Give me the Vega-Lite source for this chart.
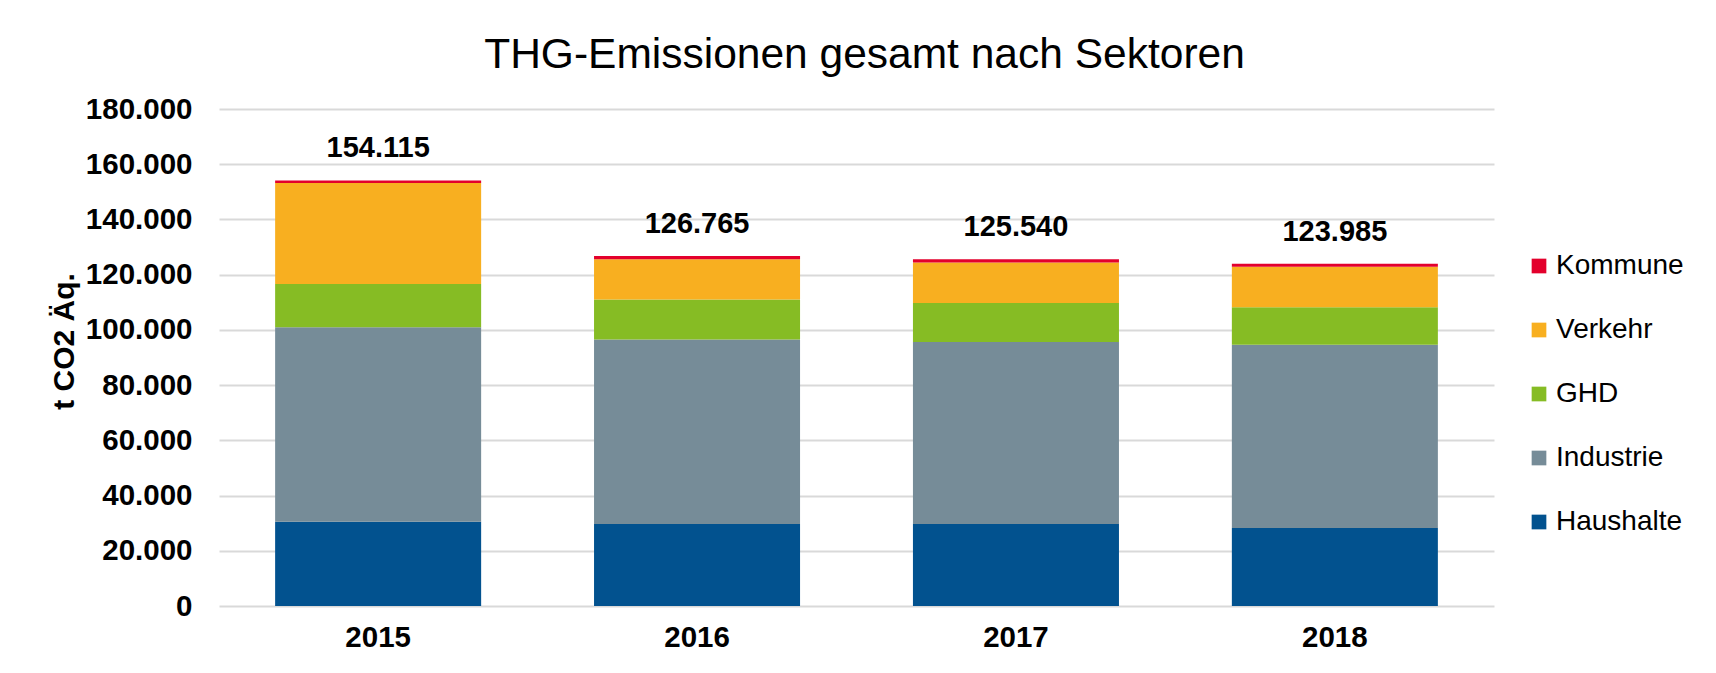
{
  "$schema": "https://vega.github.io/schema/vega-lite/v6.json",
  "width": 1275,
  "height": 497,
  "autosize": {"type": "none"},
  "padding": {"left": 219, "top": 109, "right": 222, "bottom": 67},
  "background": "white",
  "config": {
    "locale": {"number": {"decimal": ",", "thousands": ".", "grouping": [3], "currency": ["", " €"]}},
    "view": {"stroke": null},
    "font": "Liberation Sans"
  },
  "title": {
    "text": "THG-Emissionen gesamt nach Sektoren",
    "fontSize": 42.5,
    "fontWeight": "normal",
    "font": "Liberation Sans",
    "color": "black",
    "frame": "group",
    "anchor": "middle",
    "dx": 8,
    "dy": 57,
    "baseline": "alphabetic",
    "offset": 41
  },
  "data": {
    "values": [
      {"Jahr": "2015", "Sektor": "Haushalte", "Wert": 30500},
      {"Jahr": "2015", "Sektor": "Industrie", "Wert": 70500},
      {"Jahr": "2015", "Sektor": "GHD", "Wert": 15600},
      {"Jahr": "2015", "Sektor": "Verkehr", "Wert": 36600},
      {"Jahr": "2015", "Sektor": "Kommune", "Wert": 915},
      {"Jahr": "2016", "Sektor": "Haushalte", "Wert": 29700},
      {"Jahr": "2016", "Sektor": "Industrie", "Wert": 66850},
      {"Jahr": "2016", "Sektor": "GHD", "Wert": 14470},
      {"Jahr": "2016", "Sektor": "Verkehr", "Wert": 14600},
      {"Jahr": "2016", "Sektor": "Kommune", "Wert": 1145},
      {"Jahr": "2017", "Sektor": "Haushalte", "Wert": 29700},
      {"Jahr": "2017", "Sektor": "Industrie", "Wert": 65870},
      {"Jahr": "2017", "Sektor": "GHD", "Wert": 14130},
      {"Jahr": "2017", "Sektor": "Verkehr", "Wert": 14720},
      {"Jahr": "2017", "Sektor": "Kommune", "Wert": 1120},
      {"Jahr": "2018", "Sektor": "Haushalte", "Wert": 28250},
      {"Jahr": "2018", "Sektor": "Industrie", "Wert": 66360},
      {"Jahr": "2018", "Sektor": "GHD", "Wert": 13630},
      {"Jahr": "2018", "Sektor": "Verkehr", "Wert": 14620},
      {"Jahr": "2018", "Sektor": "Kommune", "Wert": 1125}
    ]
  },
  "transform": [
    {"calculate": "indexof(['Haushalte','Industrie','GHD','Verkehr','Kommune'], datum.Sektor)", "as": "stackOrder"}
  ],
  "layer": [
    {
      "mark": {"type": "bar"},
      "encoding": {
        "x": {
          "field": "Jahr",
          "type": "nominal",
          "scale": {"paddingInner": 0.354, "paddingOuter": 0.176},
          "axis": {
            "title": null,
            "labelAngle": 0,
            "labelFontSize": 29.5,
            "labelFontWeight": "bold",
            "labelColor": "black",
            "labelPadding": 17,
            "ticks": false,
            "domain": false,
            "grid": false
          }
        },
        "y": {
          "field": "Wert",
          "type": "quantitative",
          "stack": "zero",
          "scale": {"domain": [0, 180000], "nice": false},
          "axis": {
            "values": [0, 20000, 40000, 60000, 80000, 100000, 120000, 140000, 160000, 180000],
            "format": ",.0f",
            "labelFontSize": 29.5,
            "labelFontWeight": "bold",
            "labelColor": "black",
            "labelPadding": 27,
            "ticks": false,
            "domain": false,
            "gridColor": "#d9d9d9",
            "gridWidth": 2,
            "title": "t CO2 Äq.",
            "titleFontSize": 30,
            "titleFontWeight": "bold",
            "titleColor": "black",
            "titleAngle": 270,
            "titleAlign": "center",
            "titleBaseline": "middle",
            "titleX": -155,
            "titleY": 232
          }
        },
        "color": {
          "field": "Sektor",
          "type": "nominal",
          "scale": {
            "domain": ["Kommune", "Verkehr", "GHD", "Industrie", "Haushalte"],
            "range": ["#E3002C", "#F8AF20", "#86BC24", "#768C98", "#02528F"]
          },
          "legend": {
            "orient": "none",
            "legendX": 1306,
            "legendY": 143,
            "title": null,
            "symbolType": "square",
            "symbolSize": 216,
            "symbolStrokeWidth": 0,
            "symbolOpacity": 1,
            "labelFontSize": 28,
            "labelColor": "black",
            "labelOffset": 3,
            "rowPadding": 36
          }
        },
        "order": {"field": "stackOrder", "type": "quantitative", "sort": "ascending"}
      }
    },
    {
      "mark": {"type": "text", "baseline": "alphabetic", "dy": -23, "fontSize": 29, "fontWeight": "bold", "color": "black"},
      "encoding": {
        "x": {"field": "Jahr", "type": "nominal"},
        "y": {"aggregate": "sum", "field": "Wert", "type": "quantitative"},
        "text": {"aggregate": "sum", "field": "Wert", "type": "quantitative", "format": ",.0f"}
      }
    }
  ]
}
